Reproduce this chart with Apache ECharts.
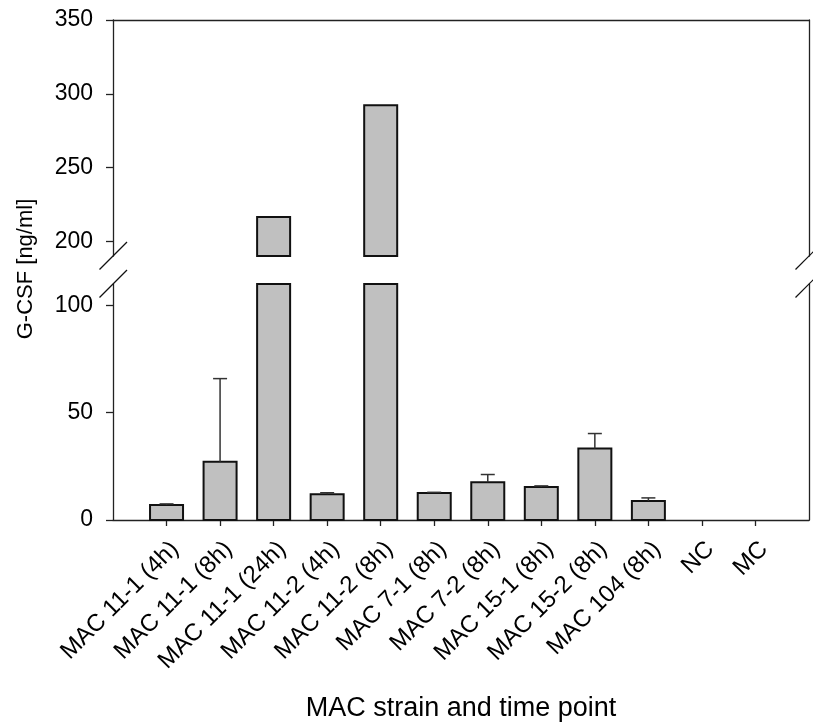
<!DOCTYPE html>
<html>
<head>
<meta charset="utf-8">
<title>G-CSF by MAC strain and time point</title>
<script src="https://cdn.jsdelivr.net/npm/echarts@6/dist/echarts.min.js"></script>
<style>
  html, body { margin: 0; padding: 0; background: #fff; }
  #chart { width: 813px; height: 726px; }
</style>
</head>
<body>
<div id="chart"></div>
<script>
// G-CSF concentration (ng/ml), mean and upper error per strain / time point
const categories = ['MAC 11-1 (4h)', 'MAC 11-1 (8h)', 'MAC 11-1 (24h)', 'MAC 11-2 (4h)', 'MAC 11-2 (8h)',
  'MAC 7-1 (8h)', 'MAC 7-2 (8h)', 'MAC 15-1 (8h)', 'MAC 15-2 (8h)', 'MAC 104 (8h)', 'NC', 'MC'];
const means  = [7.0, 27.2, 216.5, 12.0, 292.2, 12.6, 17.6, 15.4, 33.3, 8.9, 0, 0];
const errors = [0.5, 38.7, 0, 0.7, 0, 0.3, 3.6, 0.5, 7.0, 1.4, 0, 0];

// broken value axis: lower and upper segments
const lowerRange = [0, 110];
const upperRange = [190, 350];
const lowerTicks = [0, 50, 100];
const upperTicks = [200, 250, 300, 350];

const FONT = "'Liberation Sans', Arial, Helvetica, sans-serif";
const INK = '#111';
const AXIS = '#222';

// plot frame geometry (pixels)
const LEFT = 113, RIGHT = 4, W = 813;
const UP_TOP = 20, UP_H = 236;
const LO_TOP = 284, LO_H = 236;

// categories padded with an empty slot at each end, so the bars sit one step in from the frame
const axisCats = [''].concat(categories, ['']);
const barData = categories.map((c, i) => [i + 1, means[i], errors[i]]);

const BAR_W = 33, CAP_W = 14;

function barRenderer(range, withErrors) {
  return function (params, api) {
    const x = api.value(0), v = api.value(1), e = api.value(2);
    if (v <= range[0]) return null;
    const top = Math.min(v, range[1]);
    const pTop = api.coord([x, top]);
    const pBot = api.coord([x, range[0]]);
    const children = [{
      type: 'rect',
      shape: { x: pTop[0] - BAR_W / 2, y: pTop[1], width: BAR_W, height: pBot[1] - pTop[1] },
      style: { fill: '#c0c0c0', stroke: INK, lineWidth: 2 }
    }];
    if (withErrors && e > 0 && v + e <= range[1]) {
      const pErr = api.coord([x, v + e]);
      children.push({
        type: 'line',
        shape: { x1: pTop[0], y1: pTop[1], x2: pTop[0], y2: pErr[1] },
        style: { stroke: '#333', lineWidth: 1.5 }
      });
      children.push({
        type: 'line',
        shape: { x1: pTop[0] - CAP_W / 2, y1: pErr[1], x2: pTop[0] + CAP_W / 2, y2: pErr[1] },
        style: { stroke: '#333', lineWidth: 1.5 }
      });
    }
    return { type: 'group', children: children };
  };
}

// diagonal break marks where the value axis is cut
function breakMark(cx, cy) {
  return {
    type: 'line',
    shape: { x1: cx - 13.5, y1: cy + 13.5, x2: cx + 14, y2: cy - 14 },
    style: { stroke: INK, lineWidth: 1.2 },
    z: 10
  };
}
const axisLeftX = LEFT, axisRightX = W - RIGHT;
const upBottom = UP_TOP + UP_H, loTop = LO_TOP;

const chart = echarts.init(document.getElementById('chart'), null, { renderer: 'canvas' });

const lineStyle = { color: AXIS, width: 1.3 };

chart.setOption({
  animation: false,
  backgroundColor: '#fff',
  grid: [
    { left: LEFT, right: RIGHT, top: UP_TOP, height: UP_H, containLabel: false, outerBoundsMode: 'none' },
    { left: LEFT, right: RIGHT, top: LO_TOP, height: LO_H, containLabel: false, outerBoundsMode: 'none' }
  ],
  xAxis: [
    {
      gridIndex: 0, type: 'category', data: axisCats, boundaryGap: false, position: 'top',
      axisLine: { show: true, lineStyle: lineStyle },
      axisTick: { show: false }, axisLabel: { show: false }, splitLine: { show: false }
    },
    {
      gridIndex: 1, type: 'category', data: axisCats, boundaryGap: false, position: 'bottom',
      axisLine: { show: true, lineStyle: lineStyle },
      axisTick: {
        show: true, inside: false, length: 6, lineStyle: { color: AXIS, width: 1.3 },
        interval: function (index) { return index >= 1 && index <= categories.length; }
      },
      axisLabel: {
        show: true, interval: 0, rotate: 45, margin: 17,
        align: 'right', verticalAlign: 'top',
        color: '#000', fontSize: 24, fontFamily: FONT
      },
      splitLine: { show: false }
    }
  ],
  yAxis: [
    {
      gridIndex: 0, type: 'value', position: 'left', min: upperRange[0], max: upperRange[1],
      axisLine: { show: true, lineStyle: lineStyle },
      axisTick: { show: true, length: 7, customValues: upperTicks, lineStyle: { color: AXIS, width: 1.3 } },
      axisLabel: { show: true, customValues: upperTicks, margin: 20, color: '#000', fontSize: 23, fontFamily: FONT },
      splitLine: { show: false }
    },
    {
      gridIndex: 0, type: 'value', position: 'right', min: upperRange[0], max: upperRange[1],
      axisLine: { show: true, lineStyle: lineStyle },
      axisTick: { show: false }, axisLabel: { show: false }, splitLine: { show: false }
    },
    {
      gridIndex: 1, type: 'value', position: 'left', min: lowerRange[0], max: lowerRange[1],
      axisLine: { show: true, lineStyle: lineStyle },
      axisTick: { show: true, length: 7, customValues: lowerTicks, lineStyle: { color: AXIS, width: 1.3 } },
      axisLabel: { show: true, customValues: lowerTicks, margin: 20, color: '#000', fontSize: 23, fontFamily: FONT },
      splitLine: { show: false }
    },
    {
      gridIndex: 1, type: 'value', position: 'right', min: lowerRange[0], max: lowerRange[1],
      axisLine: { show: true, lineStyle: lineStyle },
      axisTick: { show: false }, axisLabel: { show: false }, splitLine: { show: false }
    }
  ],
  series: [
    {
      type: 'custom', name: 'G-CSF upper', xAxisIndex: 0, yAxisIndex: 0,
      data: barData, clip: false, renderItem: barRenderer(upperRange, false)
    },
    {
      type: 'custom', name: 'G-CSF lower', xAxisIndex: 1, yAxisIndex: 2,
      data: barData, clip: false, renderItem: barRenderer(lowerRange, true)
    }
  ],
  graphic: [
    breakMark(axisLeftX, upBottom),
    breakMark(axisLeftX, loTop),
    breakMark(axisRightX, upBottom),
    breakMark(axisRightX, loTop),
    {
      type: 'text', x: 26, y: 269, rotation: Math.PI / 2,
      style: { text: 'G-CSF [ng/ml]', fill: '#000', font: '22px ' + FONT, align: 'center', verticalAlign: 'middle' }
    },
    {
      type: 'text', x: 461, y: 709,
      style: { text: 'MAC strain and time point', fill: '#000', font: '27px ' + FONT, align: 'center', verticalAlign: 'middle' }
    }
  ]
});
</script>
</body>
</html>
